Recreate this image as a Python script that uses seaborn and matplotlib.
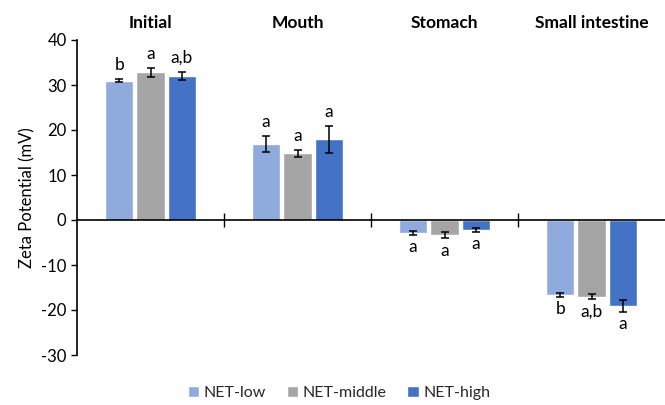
import matplotlib
matplotlib.use("Agg")
import matplotlib.pyplot as plt
import matplotlib.transforms as mtransforms
import seaborn as sns
import pandas as pd

# data
stages = ["Initial", "Mouth", "Stomach", "Small intestine"]
groups = ["NET-low", "NET-middle", "NET-high"]
net_low = [31.0, 16.9, -2.9, -16.7]
net_middle = [32.8, 14.8, -3.3, -17.0]
net_high = [32.1, 18.0, -2.2, -19.1]
err_low = [0.4, 1.8, 0.4, 0.4]
err_middle = [1.0, 0.7, 0.7, 0.5]
err_high = [0.9, 3.0, 0.4, 1.3]
letters_low = ["b", "a", "a", "b"]
letters_middle = ["a", "a", "a", "a,b"]
letters_high = ["a,b", "a", "a", "a"]
colors = ["#8FAADC", "#A5A5A5", "#4472C4"]

sns.set_theme(style="white")
plt.rcParams["font.family"] = ["Lato", "DejaVu Sans"]
plt.rcParams["axes.unicode_minus"] = False

rows = []
for g, vals, errs, labs in zip(groups, [net_low, net_middle, net_high],
                               [err_low, err_middle, err_high],
                               [letters_low, letters_middle, letters_high]):
    for s, v, e, l in zip(stages, vals, errs, labs):
        rows.append({"stage": s, "group": g, "zeta": v, "err": e, "letter": l})
df = pd.DataFrame(rows)

fig = plt.figure(figsize=(6.65, 4.05), dpi=100)
ax = fig.add_axes([77 / 665, 50 / 405, 588 / 665, 315 / 405])

sns.barplot(data=df, x="stage", y="zeta", hue="group", order=stages,
            hue_order=groups, palette=colors, saturation=1, width=0.64,
            gap=0.1, errorbar=None, ax=ax, legend=True)

# error bars and significance letters at each bar
for cont, g in zip(ax.containers, groups):
    sub = df[df["group"] == g].set_index("stage").loc[stages]
    for patch, (_, r) in zip(cont.patches, sub.iterrows()):
        xc = patch.get_x() + patch.get_width() / 2
        ax.errorbar(xc, r["zeta"], yerr=r["err"], fmt="none", ecolor="black",
                    elinewidth=1.1, capsize=3, capthick=1.1, zorder=5)
        if r["zeta"] >= 0:
            ax.text(xc, r["zeta"] + r["err"] + 1.3, r["letter"], ha="center",
                    va="bottom", fontsize=12.5, color="black")
        else:
            ax.text(xc, r["zeta"] - r["err"] - 1.0, r["letter"], ha="center",
                    va="top", fontsize=12.5, color="black")

ax.set_xlim(-0.5, 3.5)
ax.set_ylim(-30, 40)
ax.set_yticks(range(-30, 41, 10))
ax.tick_params(axis="y", labelsize=12, length=4, direction="out",
               left=True, width=1, colors="black")
ax.set_ylabel("Zeta Potential (mV)", fontsize=12, color="black")

# x axis drawn at zero with ticks between the stages
ax.spines["bottom"].set_position(("data", 0))
ax.spines["top"].set_visible(False)
ax.spines["right"].set_visible(False)
for sp in ["left", "bottom"]:
    ax.spines[sp].set_color("black")
    ax.spines[sp].set_linewidth(1.2)
ax.set_xticks([0.5, 1.5, 2.5])
ax.set_xticklabels([])
ax.tick_params(axis="x", bottom=True, direction="inout", length=10, width=1,
               colors="black")
ax.set_xlabel("")

# stage titles above the plot
trans = mtransforms.blended_transform_factory(ax.transData, ax.transAxes)
for i, s in enumerate(stages):
    ax.text(i, 1.055, s, transform=trans, ha="center", va="center",
            fontsize=12.5, fontweight="bold", color="black")

leg = ax.legend(loc="center", ncol=3, frameon=False, fontsize=11.5,
                handlelength=0.7, handleheight=0.7, handletextpad=0.3,
                columnspacing=1.3)
leg.set_bbox_to_anchor((339 / 665, 12 / 405), transform=fig.transFigure)

fig.savefig("out.png", dpi=100)
